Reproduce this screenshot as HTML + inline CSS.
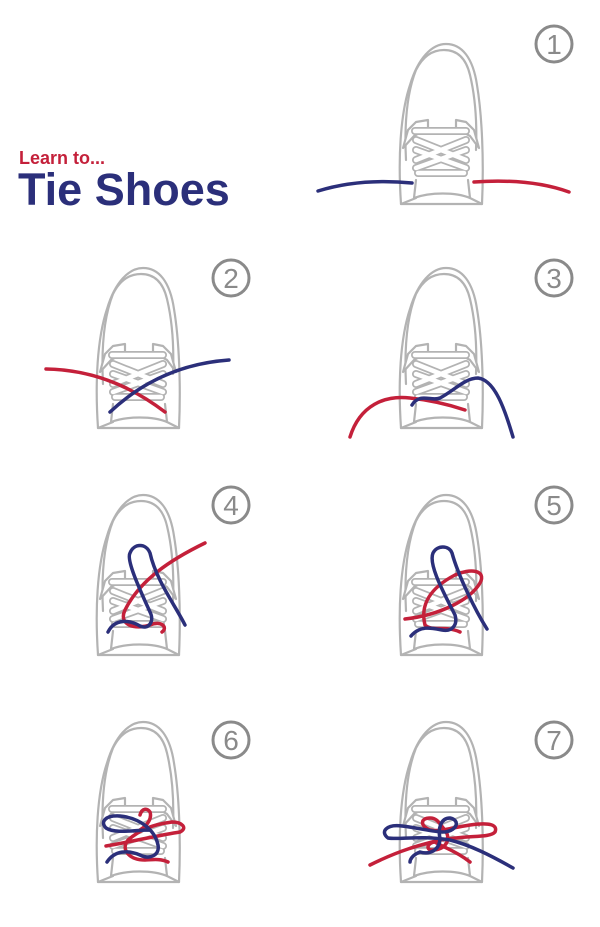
<!DOCTYPE html>
<html><head><meta charset="utf-8"><style>
html,body{margin:0;padding:0;background:#fff;}
svg{display:block;}
</style></head><body>
<svg width="600" height="927" viewBox="0 0 600 927" xmlns="http://www.w3.org/2000/svg">
<defs>
<g id="shoe" fill="none" stroke-linecap="round" stroke-linejoin="round">
  <g stroke="#b3b3b3" stroke-width="2.2">
    <path d="M401 204 C398 160 400 115 410 85 C418 58 432 44 446 44 C462 44 473 58 477 85 C482 115 484 160 482 204 Z" fill="#fff"/>
    <path d="M406 160 C404 120 408 90 416 70 C423 56 433 50 444 50 C457 50 466 58 470 75 C476 100 477 125 476 150"/>
    <path d="M403 148 L408 130 L416 122 L428 120 L428 128 L414 136 Z" fill="#fff"/>
    <path d="M479 148 L474 130 L466 122 L456 120 L456 128 L470 136 Z" fill="#fff"/>
    <path d="M416 180 L414 198 C430 192 456 192 470 198 L468 180"/>
    <path d="M401 204 L416 198 M482 204 L470 198"/>
  </g>
  <g stroke="#b3b3b3" stroke-width="8">
    <path d="M415 131 L466 131 M416 140 L466 160 M466 140 L416 160 M416 168 L466 150 M466 168 L416 150 M418 173 L464 173"/>
  </g>
  <g stroke="#fff" stroke-width="4.5">
    <path d="M415 131 L466 131 M416 140 L466 160 M466 140 L416 160 M416 168 L466 150 M466 168 L416 150 M418 173 L464 173"/>
  </g>
</g>
<g id="num" fill="none" stroke="#8a8a8a" stroke-width="3"><circle cx="0" cy="0" r="18" fill="#fff"/></g>
</defs>

<text x="19" y="164" font-family="Liberation Sans, sans-serif" font-weight="bold" font-size="18" fill="#c4203a">Learn to...</text>
<text x="18" y="205" font-family="Liberation Sans, sans-serif" font-weight="bold" font-size="45" fill="#2b2f7a">Tie Shoes</text>

<use href="#shoe"/>
<use href="#shoe" transform="translate(-303,224)"/>
<use href="#shoe" transform="translate(0,224)"/>
<use href="#shoe" transform="translate(-303,451)"/>
<use href="#shoe" transform="translate(0,451)"/>
<use href="#shoe" transform="translate(-303,678)"/>
<use href="#shoe" transform="translate(0,678)"/>

<g font-family="Liberation Sans, sans-serif" font-size="28" fill="#8a8a8a" text-anchor="middle">
<use href="#num" x="554" y="44"/><text x="554" y="54">1</text>
<use href="#num" x="231" y="278"/><text x="231" y="288">2</text>
<use href="#num" x="554" y="278"/><text x="554" y="288">3</text>
<use href="#num" x="231" y="505"/><text x="231" y="515">4</text>
<use href="#num" x="554" y="505"/><text x="554" y="515">5</text>
<use href="#num" x="231" y="740"/><text x="231" y="750">6</text>
<use href="#num" x="554" y="740"/><text x="554" y="750">7</text>
</g>

<g fill="none" stroke-width="3.5" stroke-linecap="round">
<path d="M318 191 Q360 178 412 183" stroke="#2b2f7a"/>
<path d="M474 182 Q530 178 569 192" stroke="#c4203a"/>
<path d="M46 369 Q110 370 165 412" stroke="#c4203a"/>
<path d="M229 360 Q160 365 110 412" stroke="#2b2f7a"/>
<path d="M350 437 C360 405 385 395 410 398 C430 400 450 405 465 410" stroke="#c4203a"/>
<path d="M412 405 C420 392 432 402 440 398 C455 390 465 378 478 378 C495 380 505 410 513 437" stroke="#2b2f7a"/>
<path d="M205 543 C170 560 140 580 125 610 C118 625 135 630 150 625 C162 620 168 628 162 632" stroke="#c4203a"/>
<path d="M108 632 C115 618 130 620 140 626 C148 630 155 622 150 612 C140 590 126 560 130 553 C134 543 146 543 150 553 C156 580 175 605 185 625" stroke="#2b2f7a"/>
<path d="M405 619 C440 615 470 600 480 583 C487 570 470 568 455 575 C430 588 420 605 425 625 C432 632 445 625 460 632" stroke="#c4203a"/>
<path d="M411 636 C420 625 432 628 442 630 C452 632 458 625 455 615 C445 595 428 565 433 553 C437 545 449 545 452 553 C458 575 475 610 487 629" stroke="#2b2f7a"/>
<path d="M106 846 C130 842 160 835 180 832 C188 828 182 822 172 822 C150 825 140 830 128 840 C120 850 130 860 145 860 C150 860 160 858 168 862 M140 815 C142 808 147 808 150 812 C152 818 148 825 140 830" stroke="#c4203a"/>
<path d="M107 862 C115 850 128 850 140 855 C150 860 160 855 158 845 C155 830 140 818 120 816 C105 815 100 822 106 828 C115 834 135 830 150 830" stroke="#2b2f7a"/>
<path d="M370 865 C400 850 420 845 440 840 C470 835 490 838 495 832 C498 825 490 822 470 825 C450 828 440 832 430 830 C420 826 420 818 430 818 C438 818 440 825 445 830 C452 840 445 850 432 850 C425 850 428 842 435 842 C440 846 455 850 470 862" stroke="#c4203a"/>
<path d="M513 868 C490 855 470 845 450 840 C420 835 400 840 388 838 C380 832 386 824 402 826 C420 828 432 832 445 832 C458 830 460 820 450 818 C440 818 438 830 440 838 C440 850 430 855 420 852 C412 855 410 860 410 862" stroke="#2b2f7a"/>
</g>
</svg>
</body></html>
